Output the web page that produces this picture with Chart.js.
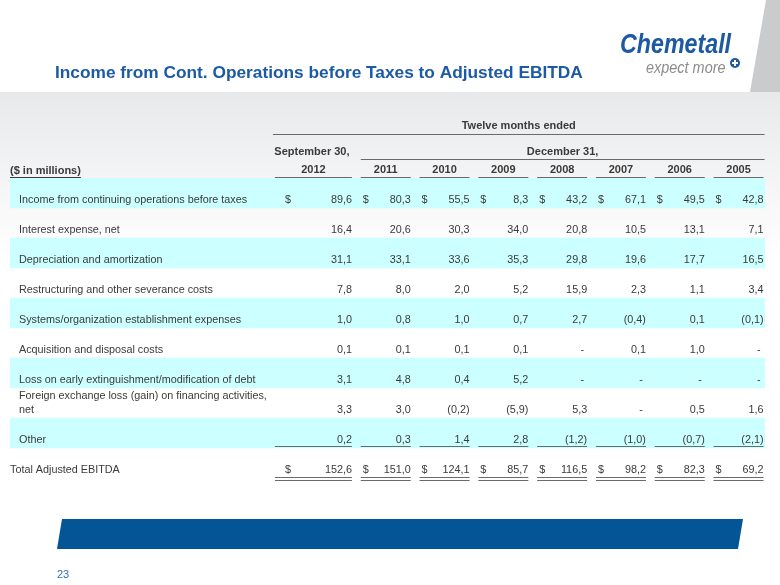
<!DOCTYPE html>
<html>
<head>
<meta charset="utf-8">
<script src="https://cdn.jsdelivr.net/npm/chart.js@4.4.1/dist/chart.umd.min.js"></script>
<style>
  body { margin: 0; background: #fff; }
  canvas { display: block; }
</style>
</head>
<body>
<canvas id="tabela" width="780" height="585"></canvas>
<script>
// rows of the table
const rows = [
  'Income from continuing operations before taxes',
  'Interest expense, net',
  'Depreciation and amortization',
  'Restructuring and other severance costs',
  'Systems/organization establishment expenses',
  'Acquisition and disposal costs',
  'Loss on early extinguishment/modification of debt',
  ['Foreign exchange loss (gain) on financing activities,', 'net'],
  'Other',
  'Total Adjusted EBITDA'
];
const years = ['2012', '2011', '2010', '2009', '2008', '2007', '2006', '2005'];

// values per column, null = "-"
const v2012 = [89.6, 16.4, 31.1, 7.8, 1.0, 0.1, 3.1, 3.3, 0.2, 152.6];
const v2011 = [80.3, 20.6, 33.1, 8.0, 0.8, 0.1, 4.8, 3.0, 0.3, 151.0];
const v2010 = [55.5, 30.3, 33.6, 2.0, 1.0, 0.1, 0.4, -0.2, 1.4, 124.1];
const v2009 = [8.3, 34.0, 35.3, 5.2, 0.7, 0.1, 5.2, -5.9, 2.8, 85.7];
const v2008 = [43.2, 20.8, 29.8, 15.9, 2.7, null, null, 5.3, -1.2, 116.5];
const v2007 = [67.1, 10.5, 19.6, 2.3, -0.4, 0.1, null, null, -1.0, 98.2];
const v2006 = [49.5, 13.1, 17.7, 1.1, 0.1, 1.0, null, 0.5, -0.7, 82.3];
const v2005 = [42.8, 7.1, 16.5, 3.4, -0.1, null, null, 1.6, -2.1, 69.2];
const columns = [v2012, v2011, v2010, v2009, v2008, v2007, v2006, v2005];

const dollarRows = [0, 9];
const shadedRows = [0, 2, 4, 6, 8];

const xMin = -5.39, xMax = 7.45;

function fmt(v) {
  if (v === null) return '-';
  const s = Math.abs(v).toFixed(1).replace('.', ',');
  return v < 0 ? '(' + s + ')' : s;
}

const txt = '#3a3a3a';
const fonte = '"Liberation Sans", Arial, sans-serif';

function hline(ctx, x1, x2, y, cor, w) {
  ctx.strokeStyle = cor;
  ctx.lineWidth = w || 1;
  ctx.beginPath();
  ctx.moveTo(x1, y + 0.5);
  ctx.lineTo(x2, y + 0.5);
  ctx.stroke();
}

// left edge of a column's cell (the 2012 column is wider)
function colLeft(cx, j) { return j === 0 ? cx - 52 : cx - 25; }

const slide = {
  id: 'slide',
  beforeDraw(chart) {
    const ctx = chart.ctx;
    ctx.save();
    ctx.fillStyle = '#fff';
    ctx.fillRect(0, 0, 780, 585);
    const g = ctx.createLinearGradient(0, 92, 0, 260);
    g.addColorStop(0, '#e8e9eb');
    g.addColorStop(1, '#ffffff');
    ctx.fillStyle = g;
    ctx.fillRect(0, 92, 780, 168);
    // gray slant top right
    ctx.fillStyle = '#c9cbcd';
    ctx.beginPath();
    ctx.moveTo(766, 0); ctx.lineTo(780, 0); ctx.lineTo(780, 92); ctx.lineTo(750, 92);
    ctx.closePath(); ctx.fill();

    // title
    ctx.fillStyle = '#1c5aa5';
    ctx.font = 'bold 17.3px ' + fonte;
    ctx.textBaseline = 'middle';
    ctx.fillText('Income from Cont. Operations before Taxes to Adjusted EBITDA', 55, 73);

    // logo
    ctx.save();
    ctx.translate(620, 45);
    ctx.scale(0.83, 1);
    ctx.fillStyle = '#1d5aa0';
    ctx.font = 'italic bold 28px ' + fonte;
    ctx.fillText('Chemetall', 0, 0);
    ctx.restore();
    ctx.save();
    ctx.translate(646, 68);
    ctx.scale(0.85, 1);
    ctx.fillStyle = '#8a8c8e';
    ctx.font = 'italic 17px ' + fonte;
    ctx.fillText('expect more', 0, 0);
    ctx.restore();
    ctx.fillStyle = '#1d5aa0';
    ctx.beginPath(); ctx.arc(735, 63, 5, 0, Math.PI * 2); ctx.fill();
    ctx.fillStyle = '#fff';
    ctx.fillRect(732, 62, 6, 2); ctx.fillRect(734, 60, 2, 6);

    // bottom band
    ctx.fillStyle = '#035596';
    ctx.beginPath();
    ctx.moveTo(62, 519); ctx.lineTo(743, 519); ctx.lineTo(738, 549); ctx.lineTo(57, 549);
    ctx.closePath(); ctx.fill();

    ctx.fillStyle = '#2f6fb8';
    ctx.font = '11px ' + fonte;
    ctx.fillText('23', 57, 575);
    ctx.restore();
  },
  afterDatasetsDraw(chart) {
    const ctx = chart.ctx;
    const xs = chart.scales.x, ys = chart.scales.y;
    const top = chart.chartArea.top;
    ctx.save();
    ctx.textBaseline = 'middle';
    ctx.fillStyle = txt;

    // header
    ctx.font = 'bold 11px ' + fonte;
    const c0 = xs.getPixelForValue(0), c1 = xs.getPixelForValue(1), c7 = xs.getPixelForValue(7);
    const left0 = colLeft(c0, 0) - 2, right7 = c7 + 26;
    ctx.textAlign = 'center';
    ctx.fillText('Twelve months ended', (left0 + right7) / 2, top - 52);
    hline(ctx, left0, right7, top - 44, '#6a6a6a');
    ctx.fillText('September 30,', c0 - 15, top - 26);
    ctx.fillText('December 31,', (c1 - 25 + right7) / 2, top - 26);
    hline(ctx, c1 - 25, right7, top - 19, '#6a6a6a');
    years.forEach((y, j) => {
      const cx = xs.getPixelForValue(j);
      const l = colLeft(cx, j);
      ctx.fillText(y, (l + cx + 25) / 2, top - 8);
      hline(ctx, l, cx + 25, top - 1, '#6a6a6a');
    });
    ctx.textAlign = 'left';
    ctx.fillText('($ in millions)', xs.left, top - 7);
    hline(ctx, xs.left, xs.left + ctx.measureText('($ in millions)').width, top - 1, txt);

    // body
    ctx.font = '10.8px ' + fonte;
    rows.forEach((r, i) => {
      const y = ys.getPixelForValue(i) + 7;
      const lx = i === rows.length - 1 ? xs.left : xs.left + 9;
      ctx.textAlign = 'left';
      ctx.fillStyle = txt;
      if (Array.isArray(r)) {
        ctx.fillText(r[0], lx, y - 14);
        ctx.fillText(r[1], lx, y);
      } else {
        ctx.fillText(r, lx, y);
      }
      columns.forEach((col, j) => {
        const cx = xs.getPixelForValue(j);
        const l = colLeft(cx, j);
        ctx.textAlign = 'right';
        const v = col[i];
        ctx.fillText(fmt(v), v === null ? cx + 22 : cx + 25, y);
        if (dollarRows.includes(i)) {
          ctx.textAlign = 'left';
          ctx.fillText('$', j === 0 ? cx - 42 : cx - 23, y);
        }
        if (i === 8) hline(ctx, l, cx + 25, y + 6, '#6a6a6a');
        if (i === 9) {
          hline(ctx, l, cx + 25, y + 7, '#6a6a6a');
          hline(ctx, l, cx + 25, y + 10, '#6a6a6a');
        }
      });
    });
    ctx.restore();
  }
};

new Chart(document.getElementById('tabela'), {
  type: 'bar',
  data: {
    labels: rows,
    datasets: [{
      label: 'faixas',
      data: rows.map((r, i) => shadedRows.includes(i) ? [xMin, xMax] : null),
      backgroundColor: '#ccffff',
      borderWidth: 0,
      barPercentage: 1,
      categoryPercentage: 1
    }]
  },
  options: {
    indexAxis: 'y',
    responsive: false,
    animation: false,
    layout: { padding: { left: 10, right: 15, top: 178, bottom: 107 } },
    plugins: { legend: { display: false }, tooltip: { enabled: false } },
    scales: {
      x: { type: 'linear', min: xMin, max: xMax, display: false },
      y: { display: false }
    }
  },
  plugins: [slide]
});
</script>
</body>
</html>
